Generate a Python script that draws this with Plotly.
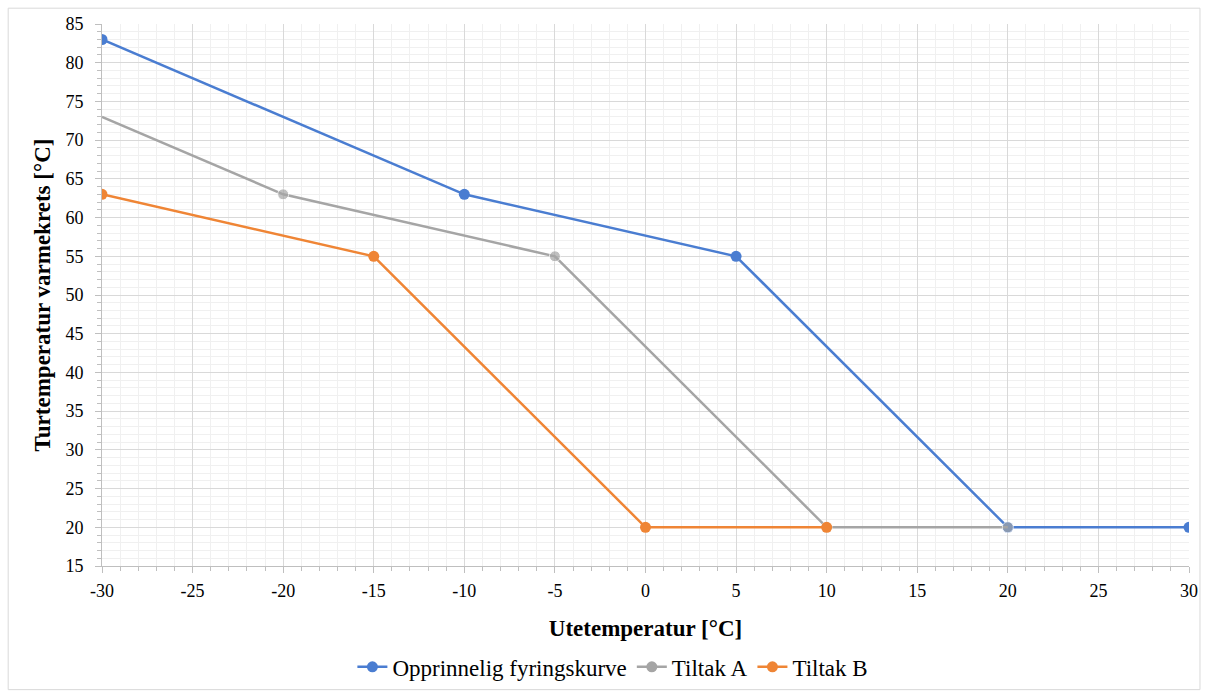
import plotly.graph_objects as go

orig_x = [-30, -10, 5, 20, 30]
orig_y = [83, 63, 55, 20, 20]
a_x = [-30, -20, -5, 10, 20]
a_y = [73, 63, 55, 20, 20]
b_x = [-30, -15, 0, 10]
b_y = [63, 55, 20, 20]

x_ticks = list(range(-30, 31, 5))
y_ticks = list(range(15, 86, 5))

FF = "Times New Roman, Liberation Serif, serif"
BLUE, GRAY, ORANGE = "#4a7dd1", "#a5a5a5", "#ef8535"
MS = 11
LW = 2.5

fig = go.Figure()
fig.add_trace(go.Scatter(x=orig_x, y=orig_y, mode="lines+markers",
                         name="Opprinnelig fyringskurve",
                         line=dict(color=BLUE, width=LW),
                         marker=dict(size=MS, color=BLUE)))
fig.add_trace(go.Scatter(x=a_x, y=a_y, mode="lines+markers",
                         name="Tiltak A", showlegend=False,
                         line=dict(color=GRAY, width=LW),
                         marker=dict(size=[0, MS, MS, MS, MS], color=GRAY)))
fig.add_trace(go.Scatter(x=[None], y=[None], mode="lines+markers",
                         name="Tiltak A",
                         line=dict(color=GRAY, width=LW),
                         marker=dict(size=MS, color=GRAY)))
fig.add_trace(go.Scatter(x=b_x, y=b_y, mode="lines+markers",
                         name="Tiltak B",
                         line=dict(color=ORANGE, width=LW),
                         marker=dict(size=MS, color=ORANGE)))

L, R, T, B = 102, 19, 24, 128
W, H = 1210, 700
pw, ph = W - L - R, H - T - B

def px_x(p):
    return (p - L) / pw

def px_y(p):
    return (H - B - p) / ph

fig.add_shape(type="rect", xref="paper", yref="paper",
              x0=px_x(8), x1=px_x(1202), y0=px_y(697), y1=px_y(8),
              line=dict(color="#d9d9d9", width=1), layer="below")

common = dict(showgrid=True, gridcolor="#d9d9d9", gridwidth=1,
              minor=dict(dtick=1, showgrid=True, gridcolor="#f0f0f0", ticks="outside",
                         ticklen=4, tickcolor="#bfbfbf"),
              ticks="outside", ticklen=6, tickcolor="#bfbfbf",
              showline=True, linecolor="#bfbfbf", linewidth=1,
              zeroline=False,
              tickfont=dict(family=FF, size=18, color="#000"))

fig.update_xaxes(range=[-30, 30], tickvals=x_ticks, ticktext=[str(v) for v in x_ticks],
                 ticklabelstandoff=2,
                 title=dict(text="<b>Utetemperatur [°C]</b>",
                            font=dict(family=FF, size=23, color="#000"),
                            standoff=20),
                 **common)
fig.update_yaxes(range=[15, 85], tickvals=y_ticks, ticktext=[str(v) for v in y_ticks],
                 ticklabelstandoff=8,
                 title=dict(text="<b>Turtemperatur varmekrets [°C]</b>",
                            font=dict(family=FF, size=23, color="#000"),
                            standoff=8),
                 **common)

fig.update_layout(width=W, height=H, margin=dict(l=L, r=R, t=T, b=B),
                  paper_bgcolor="white", plot_bgcolor="white",
                  font=dict(family=FF, color="#000"),
                  legend=dict(orientation="h", x=0.47, xanchor="center",
                              y=px_y(674), yanchor="middle",
                              font=dict(family=FF, size=23, color="#000"),
                              itemwidth=30, tracegroupgap=0))

fig.write_html("out.html")
